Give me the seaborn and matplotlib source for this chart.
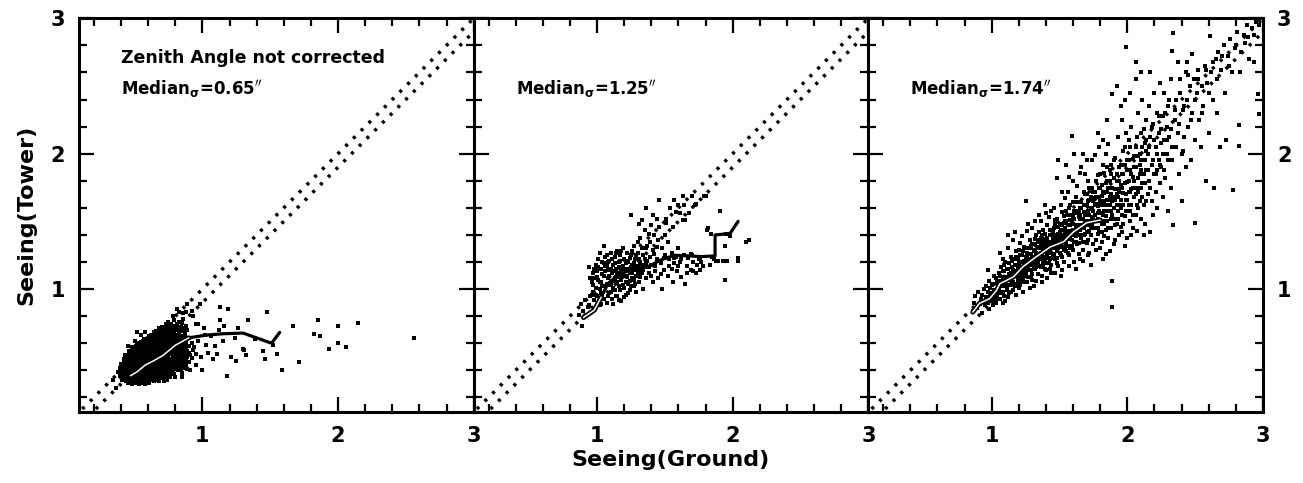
import matplotlib
matplotlib.use('Agg')
import matplotlib.pyplot as plt
from matplotlib.ticker import MultipleLocator, FixedLocator
import seaborn as sns

sns.set_style('ticks')
plt.rcParams['font.family'] = ['DejaVu Sans']
plt.rcParams['font.weight'] = 'bold'
plt.rcParams['axes.labelweight'] = 'bold'
plt.rcParams['mathtext.default'] = 'bf'
for k in ('text.color', 'axes.labelcolor', 'xtick.color', 'ytick.color', 'axes.edgecolor'):
    plt.rcParams[k] = 'black'

# ---------------- data ----------------
tick_values = [1, 2, 3]
tick_labels = ['1', '2', '3']
x_label = 'Seeing(Ground)'
y_label = 'Seeing(Tower)'
title_text = 'Zenith Angle not corrected'
median_values = ['0.65', '1.25', '1.74']

# two dotted reference lines: y = x and y = x - 0.1
diag_x = [0.0, 3.2]
diag_upper = [0.0, 3.2]
diag_lower_x = [0.1, 3.3]
diag_lower_y = [0.0, 3.2]

# panel 1 : ground vs tower seeing points
points1 = [
    (0.45,0.31),(0.48,0.30),(0.50,0.31),(0.53,0.30),(0.55,0.31),(0.58,0.30),(0.61,0.31),(0.64,0.32),
    (0.41,0.33),(0.43,0.34),(0.46,0.33),(0.49,0.33),(0.51,0.34),(0.54,0.33),(0.57,0.34),(0.60,0.33),(0.63,0.34),(0.66,0.33),(0.70,0.34),(0.74,0.33),
    (0.39,0.36),(0.41,0.37),(0.44,0.36),(0.46,0.37),(0.48,0.36),(0.51,0.37),(0.53,0.36),(0.56,0.37),(0.58,0.36),(0.61,0.37),(0.63,0.36),(0.66,0.37),(0.68,0.36),(0.71,0.37),(0.74,0.36),(0.77,0.37),(0.80,0.35),
    (0.38,0.39),(0.40,0.40),(0.43,0.39),(0.45,0.40),(0.47,0.39),(0.50,0.40),(0.52,0.39),(0.55,0.40),(0.57,0.39),(0.60,0.40),(0.62,0.39),(0.65,0.40),(0.67,0.39),(0.70,0.40),(0.72,0.39),(0.75,0.40),(0.78,0.39),(0.82,0.40),(0.85,0.38),
    (0.39,0.42),(0.41,0.43),(0.44,0.42),(0.46,0.43),(0.49,0.42),(0.51,0.43),(0.54,0.42),(0.56,0.43),(0.59,0.42),(0.61,0.43),(0.64,0.42),(0.66,0.43),(0.69,0.42),(0.71,0.43),(0.74,0.42),(0.76,0.43),(0.79,0.42),(0.82,0.43),(0.86,0.42),(0.89,0.41),
    (0.40,0.45),(0.42,0.46),(0.45,0.45),(0.47,0.46),(0.50,0.45),(0.52,0.46),(0.55,0.45),(0.57,0.46),(0.60,0.45),(0.62,0.46),(0.65,0.45),(0.67,0.46),(0.70,0.45),(0.72,0.46),(0.75,0.45),(0.77,0.46),(0.80,0.45),(0.83,0.46),(0.86,0.45),(0.90,0.46),
    (0.42,0.48),(0.44,0.49),(0.47,0.48),(0.49,0.49),(0.52,0.48),(0.54,0.49),(0.57,0.48),(0.59,0.49),(0.62,0.48),(0.64,0.49),(0.67,0.48),(0.69,0.49),(0.72,0.48),(0.74,0.49),(0.77,0.48),(0.79,0.49),(0.82,0.48),(0.85,0.49),(0.88,0.48),(0.92,0.49),
    (0.43,0.51),(0.46,0.52),(0.48,0.51),(0.51,0.52),(0.53,0.51),(0.56,0.52),(0.58,0.51),(0.61,0.52),(0.63,0.51),(0.66,0.52),(0.68,0.51),(0.71,0.52),(0.73,0.51),(0.76,0.52),(0.78,0.51),(0.81,0.52),(0.84,0.51),(0.87,0.52),(0.91,0.51),(0.95,0.52),
    (0.46,0.54),(0.49,0.55),(0.51,0.54),(0.54,0.55),(0.56,0.54),(0.59,0.55),(0.61,0.54),(0.64,0.55),(0.66,0.54),(0.69,0.55),(0.71,0.54),(0.74,0.55),(0.76,0.54),(0.79,0.55),(0.82,0.54),(0.85,0.55),(0.89,0.54),(0.93,0.55),
    (0.48,0.57),(0.51,0.58),(0.54,0.57),(0.57,0.58),(0.59,0.57),(0.62,0.58),(0.64,0.57),(0.67,0.58),(0.69,0.57),(0.72,0.58),(0.74,0.57),(0.77,0.58),(0.80,0.57),(0.83,0.58),(0.86,0.57),(0.90,0.58),(0.94,0.57),
    (0.52,0.60),(0.55,0.61),(0.58,0.60),(0.61,0.61),(0.63,0.60),(0.66,0.61),(0.68,0.60),(0.71,0.61),(0.73,0.60),(0.76,0.61),(0.79,0.60),(0.82,0.61),(0.85,0.60),(0.88,0.61),(0.92,0.60),
    (0.57,0.63),(0.60,0.64),(0.63,0.63),(0.66,0.64),(0.69,0.63),(0.71,0.64),(0.74,0.63),(0.77,0.64),(0.80,0.63),(0.83,0.64),(0.86,0.63),(0.90,0.64),
    (0.62,0.66),(0.65,0.67),(0.68,0.66),(0.71,0.67),(0.74,0.66),(0.77,0.67),(0.80,0.66),(0.83,0.67),(0.87,0.66),
    (0.66,0.69),(0.69,0.70),(0.72,0.69),(0.75,0.70),(0.78,0.69),(0.81,0.70),(0.85,0.69),(0.89,0.70),
    (0.70,0.72),(0.74,0.73),(0.77,0.72),(0.80,0.73),(0.84,0.72),(0.88,0.73),
    (0.75,0.76),(0.79,0.77),(0.83,0.76),(0.86,0.78),
    (0.58,0.68),(0.50,0.62),(0.45,0.58),(0.55,0.66),(0.86,0.82),(0.81,0.85),(0.92,0.84),(0.95,0.74),
    (0.44,0.32),(0.47,0.32),(0.52,0.32),(0.56,0.32),(0.59,0.32),(0.62,0.33),(0.68,0.32),(0.72,0.32),
    (0.40,0.35),(0.42,0.35),(0.45,0.35),(0.47,0.35),(0.50,0.35),(0.52,0.35),(0.55,0.35),(0.57,0.35),(0.60,0.35),(0.62,0.35),(0.65,0.35),(0.67,0.35),(0.70,0.35),(0.72,0.35),(0.76,0.35),
    (0.39,0.38),(0.42,0.38),(0.44,0.38),(0.46,0.38),(0.49,0.38),(0.51,0.38),(0.54,0.38),(0.56,0.38),(0.59,0.38),(0.61,0.38),(0.64,0.38),(0.66,0.38),(0.69,0.38),(0.71,0.38),(0.73,0.38),(0.76,0.38),(0.79,0.37),
    (0.40,0.41),(0.42,0.41),(0.45,0.41),(0.48,0.41),(0.50,0.41),(0.53,0.41),(0.55,0.41),(0.58,0.41),(0.60,0.41),(0.63,0.41),(0.65,0.41),(0.68,0.41),(0.70,0.41),(0.73,0.41),(0.75,0.41),(0.77,0.41),(0.80,0.41),(0.84,0.41),
    (0.41,0.44),(0.43,0.44),(0.46,0.44),(0.48,0.44),(0.51,0.44),(0.53,0.44),(0.56,0.44),(0.58,0.44),(0.61,0.44),(0.63,0.44),(0.66,0.44),(0.68,0.44),(0.71,0.44),(0.73,0.44),(0.76,0.44),(0.78,0.44),(0.81,0.44),(0.84,0.44),(0.88,0.44),
    (0.43,0.47),(0.46,0.47),(0.48,0.47),(0.51,0.47),(0.53,0.47),(0.56,0.47),(0.58,0.47),(0.61,0.47),(0.63,0.47),(0.66,0.47),(0.68,0.47),(0.71,0.47),(0.73,0.47),(0.76,0.47),(0.78,0.47),(0.81,0.47),(0.84,0.47),(0.87,0.47),
    (0.45,0.50),(0.47,0.50),(0.50,0.50),(0.53,0.50),(0.55,0.50),(0.58,0.50),(0.60,0.50),(0.63,0.50),(0.65,0.50),(0.68,0.50),(0.70,0.50),(0.73,0.50),(0.75,0.50),(0.78,0.50),(0.80,0.50),(0.83,0.50),(0.86,0.50),(0.89,0.50),
    (0.47,0.53),(0.50,0.53),(0.52,0.53),(0.55,0.53),(0.57,0.53),(0.60,0.53),(0.62,0.53),(0.65,0.53),(0.67,0.53),(0.70,0.53),(0.72,0.53),(0.75,0.53),(0.77,0.53),(0.80,0.53),(0.83,0.53),(0.86,0.53),(0.90,0.53),
    (0.50,0.56),(0.52,0.56),(0.55,0.56),(0.58,0.56),(0.60,0.56),(0.63,0.56),(0.65,0.56),(0.68,0.56),(0.70,0.56),(0.73,0.56),(0.75,0.56),(0.78,0.56),(0.81,0.56),(0.84,0.56),(0.88,0.56),
    (0.53,0.59),(0.56,0.59),(0.58,0.59),(0.60,0.59),(0.63,0.59),(0.65,0.59),(0.68,0.59),(0.70,0.59),(0.72,0.59),(0.75,0.59),(0.78,0.59),(0.81,0.59),(0.84,0.59),(0.87,0.59),
    (0.56,0.62),(0.59,0.62),(0.62,0.62),(0.65,0.62),(0.67,0.62),(0.70,0.62),(0.72,0.62),(0.75,0.62),(0.78,0.62),(0.81,0.62),(0.84,0.62),(0.87,0.62),
    (0.61,0.65),(0.64,0.65),(0.67,0.65),(0.70,0.65),(0.72,0.65),(0.75,0.65),(0.78,0.65),(0.82,0.65),(0.85,0.65),
    (0.64,0.68),(0.67,0.68),(0.70,0.68),(0.73,0.68),(0.76,0.68),(0.79,0.68),(0.83,0.68),(0.87,0.68),
    (0.68,0.71),(0.72,0.71),(0.76,0.71),(0.79,0.71),(0.82,0.71),(0.86,0.71),
    (0.73,0.74),(0.77,0.74),(0.81,0.74),(0.85,0.75),
    (0.89,0.89),(0.98,0.89),(1.13,0.87),(1.19,0.85),(1.48,0.83),(0.83,0.83),(0.88,0.83),(0.93,0.80),(0.78,0.80),
    (1.13,0.77),(1.34,0.77),(1.16,0.73),(1.67,0.73),(1.85,0.77),(2.00,0.73),(2.15,0.75),(1.82,0.67),(1.87,0.65),
    (2.56,0.64),(2.00,0.60),(1.93,0.56),(2.06,0.57),(1.71,0.46),(1.59,0.40),(1.55,0.52),(1.46,0.48),(1.45,0.54),
    (1.31,0.55),(1.25,0.47),(1.21,0.50),(1.18,0.36),(1.24,0.64),(1.26,0.71),(1.39,0.63),(1.30,0.56),(1.32,0.51),
    (1.52,0.59),(1.00,0.40),(1.08,0.48),(1.11,0.52),(1.04,0.53),(0.99,0.50),(0.97,0.62),(1.03,0.59),(1.09,0.58),
    (1.02,0.66),(1.06,0.65),(0.95,0.44),(0.91,0.40),(0.85,0.35),(0.88,0.46),(0.34,0.33),(0.36,0.27),(0.52,0.68),
    (1.15,0.62),(1.12,0.70),(1.01,0.71),(0.97,0.74),
]

points2 = [
    (0.88,0.89),(0.89,0.73),(0.87,0.81),(0.90,0.84),(0.92,0.80),(0.93,0.87),(0.91,0.92),(0.94,1.16),(0.95,0.95),
    (0.96,1.05),(0.97,0.98),(0.97,1.12),(0.98,0.92),(0.98,1.08),(0.99,1.18),(0.99,1.01),(1.00,0.95),(1.00,1.13),
    (1.01,1.07),(1.01,1.22),(1.02,0.88),(1.02,1.00),(1.03,1.15),(1.03,1.05),(1.04,0.94),(1.04,1.20),(1.05,1.10),
    (1.05,1.32),(1.06,1.02),(1.06,1.17),(1.07,0.90),(1.07,1.25),(1.08,1.08),(1.08,1.14),(1.09,0.97),(1.09,1.21),
    (1.10,1.04),(1.10,1.27),(1.11,1.12),(1.11,0.93),(1.12,1.18),(1.12,1.06),(1.13,1.24),(1.13,0.99),(1.14,1.15),
    (1.14,1.09),(1.15,0.95),(1.15,1.28),(1.16,1.20),(1.16,1.02),(1.17,1.12),(1.17,1.25),(1.18,0.91),(1.18,1.07),
    (1.19,1.17),(1.19,1.30),(1.20,1.01),(1.20,1.22),(1.21,1.10),(1.21,0.96),(1.22,1.27),(1.22,1.15),(1.23,1.04),
    (1.23,1.20),(1.24,0.99),(1.24,1.12),(1.25,1.55),(1.25,1.25),(1.26,1.08),(1.26,1.18),(1.27,1.02),(1.27,1.32),
    (1.28,1.14),(1.28,1.22),(1.29,0.98),(1.29,1.10),(1.30,1.27),(1.30,1.17),(1.31,1.05),(1.32,1.20),(1.32,1.38),
    (1.33,1.51),(1.33,1.12),(1.34,1.25),(1.34,1.00),(1.35,1.16),(1.35,1.44),(1.36,1.30),(1.36,1.08),
    (1.37,1.21),(1.38,1.41),(1.38,1.12),(1.39,1.35),(1.40,1.18),(1.40,1.47),(1.41,1.05),(1.42,1.26),(1.42,1.40),
    (1.43,1.13),(1.44,1.22),(1.44,1.52),(1.45,1.36),(1.45,1.08),(1.46,1.46),(1.47,1.19),(1.48,1.30),(1.48,1.00),
    (1.49,1.14),(1.50,1.40),(1.50,1.25),(1.51,1.52),(1.51,1.49),(1.52,1.10),(1.52,1.35),(1.53,1.22),(1.54,1.60),
    (1.55,1.15),(1.55,1.27),(1.56,1.05),(1.56,1.46),(1.57,1.19),(1.58,1.57),(1.58,1.24),(1.59,1.13),(1.60,1.30),
    (1.61,1.56),(1.61,1.20),(1.62,1.09),(1.63,1.51),(1.63,1.69),(1.64,1.62),(1.64,1.25),(1.65,1.51),(1.65,1.04),
    (1.66,1.17),(1.67,1.23),(1.68,1.56),(1.69,1.14),(1.70,1.69),(1.70,1.25),(1.71,1.20),(1.72,1.62),(1.73,1.63),
    (1.73,1.12),(1.74,1.18),(1.75,1.22),(1.76,1.14),(1.77,1.20),(1.78,1.17),(1.79,1.69),(1.80,1.69),(1.81,1.44),
    (1.82,1.45),(1.83,1.18),(1.84,1.41),(1.86,1.22),(1.88,1.21),(1.89,1.21),(1.91,1.58),(1.93,1.21),(1.94,1.32),
    (1.94,1.07),(1.95,1.41),(1.96,1.21),(1.98,1.39),(2.04,1.23),(2.04,1.21),(2.10,1.35),(2.12,1.36),(1.85,1.24),
    (1.76,1.23),(1.69,1.26),(1.60,1.62),(1.57,1.66),
    (0.97,1.03),(0.98,1.15),(0.99,0.96),(1.00,1.09),(1.01,1.16),(1.02,1.05),(1.02,1.27),(1.03,0.97),(1.04,1.11),
    (1.04,1.02),(1.05,1.19),(1.05,0.93),(1.06,1.13),(1.06,1.24),(1.07,1.04),(1.07,1.17),(1.08,0.95),(1.08,1.20),
    (1.09,1.10),(1.09,1.03),(1.10,1.15),(1.10,0.98),(1.11,1.22),(1.11,1.06),(1.12,1.13),(1.12,1.01),(1.13,1.08),
    (1.13,1.19),(1.14,1.27),(1.14,0.95),(1.15,1.12),(1.15,1.05),(1.16,1.16),(1.16,1.09),(1.17,0.99),(1.17,1.21),
    (1.18,1.14),(1.18,1.28),(1.19,1.03),(1.19,1.10),(1.20,1.15),(1.20,0.94),(1.21,1.19),(1.21,1.05),(1.22,1.09),
    (1.22,1.21),(1.23,1.14),(1.23,0.97),(1.24,1.23),(1.24,1.06),(1.25,1.16),(1.25,1.02),(1.26,1.12),(1.26,1.28),
    (1.27,1.19),(1.27,1.07),(1.28,1.17),(1.28,1.04),(1.29,1.25),(1.29,1.16),(1.30,1.12),(1.30,1.35),(1.31,1.22),
    (1.31,1.14),(1.32,1.09),(1.33,1.30),(1.33,1.18),(1.34,1.14),(1.35,1.22),(1.36,1.19),(1.37,1.32),(1.38,1.16),
    (1.39,1.24),(1.40,1.10),(1.41,1.29),(1.43,1.17),(1.44,1.31),(1.46,1.21),(1.47,1.11),(1.49,1.23),(1.53,1.17),
    (1.57,1.23),(1.62,1.22),(1.66,1.12),(1.71,1.13),(1.60,1.17),(1.12,0.89),(1.16,0.92),(1.03,0.89),(0.96,0.96),
    (0.95,1.08),(0.94,0.88),(1.36,1.60),(1.31,1.48),(1.41,1.55),(1.46,1.66),
]

points3 = [
    (0.86,0.84),(0.87,0.90),(0.88,0.95),(0.89,0.86),(0.90,0.98),(0.91,0.89),(0.92,0.93),(0.93,0.82),(0.94,1.00),(0.93,0.96),
    (0.95,0.88),(0.96,0.94),(0.96,1.02),(0.97,0.90),(0.97,0.98),(0.98,1.06),(0.98,0.85),(0.99,0.95),(0.99,1.01),(1.00,0.91),
    (1.00,0.97),(1.01,1.04),(1.01,0.88),(1.02,0.94),(1.02,1.10),(1.03,0.99),(1.03,0.90),(1.04,1.06),(1.04,0.96),(0.97,1.14),
    (1.05,1.00),(1.05,1.12),(1.06,0.93),(1.06,1.05),(1.07,0.98),(1.07,1.16),(1.08,1.02),(1.08,1.09),(1.09,0.95),(1.09,1.13),
    (1.10,1.04),(1.10,1.20),(1.11,0.99),(1.11,1.08),(1.12,1.15),(1.12,0.94),(1.13,1.03),(1.13,1.11),(1.14,1.24),(1.14,0.98),
    (1.06,1.27),(1.08,0.90),(1.12,1.30),(1.10,0.91),(1.14,1.07),
    (1.15,1.05),(1.15,1.16),(1.16,1.10),(1.16,0.99),(1.17,1.22),(1.17,1.13),(1.18,1.04),(1.18,1.28),(1.19,1.17),(1.19,1.08),
    (1.20,1.01),(1.20,1.20),(1.21,1.12),(1.21,1.34),(1.22,1.06),(1.22,1.25),(1.23,1.15),(1.23,0.98),(1.24,1.21),(1.24,1.10),
    (1.16,1.36),(1.18,0.96),(1.20,1.29),(1.22,1.39),(1.24,1.31),(1.19,1.23),(1.21,1.03),(1.23,1.08),(1.25,1.65),(1.17,1.42),
    (1.25,1.12),(1.25,1.24),(1.26,1.18),(1.26,1.05),(1.27,1.30),(1.27,1.21),(1.28,1.14),(1.28,1.36),(1.29,1.26),(1.29,1.09),
    (1.30,1.19),(1.30,1.33),(1.31,1.23),(1.31,1.02),(1.32,1.28),(1.32,1.15),(1.33,1.40),(1.33,1.21),(1.34,1.11),(1.34,1.31),
    (1.26,1.43),(1.28,1.01),(1.30,1.45),(1.32,1.37),(1.34,1.25),(1.27,1.16),(1.29,1.32),(1.31,1.17),(1.33,1.06),(1.35,1.35),
    (1.26,1.27),(1.28,1.22),(1.30,1.11),(1.32,1.50),(1.34,1.18),
    (1.35,1.22),(1.35,1.30),(1.36,1.16),(1.36,1.38),(1.37,1.26),(1.37,1.10),(1.38,1.33),(1.38,1.44),(1.39,1.20),(1.39,1.29),
    (1.40,1.36),(1.40,1.14),(1.41,1.25),(1.41,1.47),(1.42,1.31),(1.42,1.19),(1.43,1.40),(1.43,1.28),(1.44,1.23),(1.44,1.35),
    (1.36,1.50),(1.37,1.05),(1.38,1.24),(1.39,1.41),(1.40,1.28),(1.41,1.08),(1.42,1.53),(1.43,1.15),(1.44,1.44),(1.45,1.32),
    (1.35,1.42),(1.36,1.27),(1.38,1.18),(1.40,1.56),(1.41,1.34),(1.43,1.22),(1.44,1.12),(1.39,1.62),(1.45,1.26),(1.37,1.36),
    (1.45,1.38),(1.46,1.30),(1.46,1.45),(1.47,1.22),(1.47,1.36),(1.48,1.52),(1.48,1.28),(1.49,1.41),(1.49,1.17),(1.50,1.34),
    (1.50,1.48),(1.51,1.25),(1.51,1.39),(1.52,1.57),(1.52,1.31),(1.53,1.44),(1.53,1.20),(1.54,1.36),(1.54,1.50),(1.55,1.28),
    (1.46,1.60),(1.47,1.12),(1.48,1.40),(1.49,1.95),(1.50,1.27),(1.51,1.62),(1.52,1.14),(1.53,1.54),(1.54,1.42),(1.55,1.33),
    (1.46,1.35),(1.48,1.19),(1.50,1.42),(1.52,1.47),(1.53,1.29),(1.54,1.67),(1.47,1.48),(1.49,1.30),(1.51,1.10),(1.55,1.58),
    (1.55,1.40),(1.56,1.47),(1.56,1.32),(1.57,1.55),(1.57,1.25),(1.58,1.42),(1.58,1.62),(1.59,1.36),(1.59,1.50),(1.60,1.29),
    (1.60,1.44),(1.61,1.58),(1.61,1.20),(1.62,1.39),(1.62,1.68),(1.63,1.47),(1.63,1.33),(1.64,1.53),(1.64,1.26),(1.65,1.44),
    (1.56,1.72),(1.57,1.17),(1.58,1.51),(1.59,2.13),(1.60,1.64),(1.61,1.35),(1.62,1.15),(1.63,1.76),(1.64,1.40),(1.65,1.60),
    (1.56,1.39),(1.58,1.30),(1.60,1.53),(1.62,1.45),(1.64,1.34),(1.61,2.00),(1.57,1.83),(1.63,1.58),(1.65,1.22),(1.59,1.43),
    (1.65,1.52),(1.66,1.38),(1.66,1.64),(1.67,1.45),(1.67,1.29),(1.68,1.57),(1.68,1.72),(1.69,1.41),(1.69,1.50),(1.70,1.34),
    (1.70,1.62),(1.71,1.80),(1.71,1.47),(1.72,1.27),(1.72,1.55),(1.73,1.68),(1.73,1.40),(1.74,1.59),(1.74,1.48),(1.75,1.33),
    (1.66,1.90),(1.67,1.21),(1.68,1.45),(1.69,1.85),(1.70,1.55),(1.71,1.36),(1.72,1.66),(1.73,1.18),(1.74,1.75),(1.75,1.52),
    (1.66,1.52),(1.68,1.35),(1.70,1.70),(1.72,1.43),(1.74,1.95),(1.67,2.00),(1.69,1.62),(1.71,1.25),(1.73,1.50),(1.75,1.65),
    (1.75,1.58),(1.76,1.45),(1.76,1.72),(1.77,1.36),(1.77,1.63),(1.78,1.52),(1.78,1.84),(1.79,1.42),(1.79,1.68),(1.80,1.30),
    (1.80,1.56),(1.81,1.77),(1.81,1.48),(1.82,1.92),(1.82,1.62),(1.83,1.39),(1.83,1.71),(1.84,1.54),(1.84,1.26),(1.85,1.66),
    (1.76,1.99),(1.77,1.29),(1.78,1.61),(1.79,2.05),(1.80,1.75),(1.81,1.35),(1.82,1.50),(1.83,1.86),(1.84,1.44),(1.85,1.80),
    (1.76,1.55),(1.78,1.41),(1.80,1.65),(1.82,1.22),(1.84,2.00),(1.79,1.58),(1.81,1.69),(1.83,1.58),
    (1.85,1.50),(1.86,1.75),(1.86,1.38),(1.87,1.62),(1.87,1.88),(1.88,1.45),(1.88,1.70),(1.89,1.55),(1.89,1.06),(1.89,0.87),
    (1.90,1.82),(1.90,1.33),(1.91,1.66),(1.91,1.97),(1.92,1.48),(1.92,2.50),(1.93,1.74),(1.93,1.58),(1.94,1.40),(1.94,1.90),
    (1.86,2.07),(1.87,1.28),(1.88,1.58),(1.89,2.44),(1.90,1.68),(1.91,1.36),(1.92,1.80),(1.93,2.12),(1.94,1.62),(1.95,1.46),
    (1.86,1.66),(1.88,1.92),(1.90,1.52),(1.92,1.70),(1.95,1.77),
    (1.95,1.60),(1.96,1.85),(1.96,1.42),(1.97,1.71),(1.97,2.02),(1.98,1.54),(1.98,1.92),(1.99,1.66),(1.99,2.79),(2.00,1.79),
    (2.00,1.38),(2.01,2.10),(2.01,1.62),(2.02,1.88),(2.02,1.50),(2.03,1.74),(2.03,2.20),(2.04,1.45),(2.04,1.96),(2.05,1.68),
    (1.96,2.25),(1.98,1.32),(2.00,1.95),(2.02,1.58),(2.04,1.83),(2.06,2.68),(1.97,1.48),(1.99,2.15),(2.01,1.72),(2.03,1.40),
    (2.05,1.90),(2.06,1.55),(2.06,2.05),(2.07,1.75),(2.07,1.43),(2.08,1.98),(2.08,2.30),(2.09,1.65),(2.09,1.85),(2.10,2.15),
    (2.10,1.52),(2.11,1.78),(2.11,2.40),(2.12,1.95),(2.12,1.62),(2.13,2.08),(2.13,1.48),(2.14,1.88),(2.14,2.25),(2.15,1.70),
    (2.06,2.55),(2.08,1.60),(2.10,1.95),(2.12,1.40),(2.14,2.02),
    (2.15,2.00),(2.16,1.80),(2.16,2.35),(2.17,1.42),(2.17,2.12),(2.18,1.65),(2.18,1.92),(2.19,2.22),(2.19,1.55),(2.20,2.45),
    (2.20,1.85),(2.21,2.05),(2.21,1.72),(2.22,2.30),(2.22,1.60),(2.23,2.15),(2.23,1.95),(2.24,2.52),(2.24,1.78),(2.25,2.08),
    (2.17,2.60),(2.22,1.88),
    (2.25,1.90),(2.26,2.28),(2.26,1.68),(2.27,2.10),(2.27,2.45),(2.28,1.82),(2.29,2.20),(2.29,2.00),(2.30,1.58),(2.30,2.35),
    (2.31,2.12),(2.32,1.75),(2.32,2.55),(2.33,2.76),(2.33,1.95),(2.34,2.89),(2.34,1.47),(2.35,2.25),
    (2.36,2.05),(2.36,2.40),(2.37,2.68),(2.38,1.85),(2.38,2.22),(2.39,2.55),(2.40,2.00),(2.40,1.65),(2.41,2.32),(2.42,2.12),
    (2.43,2.60),(2.43,1.90),(2.44,2.68),(2.44,2.40),(2.45,2.20),
    (2.46,2.50),(2.47,1.95),(2.48,2.74),(2.48,2.30),(2.49,2.55),(2.50,1.49),(2.50,2.10),(2.51,2.45),(2.52,2.62),(2.53,2.25),
    (2.54,2.05),(2.55,2.50),
    (2.56,2.35),(2.57,2.65),(2.58,1.80),(2.59,2.52),(2.60,2.15),(2.61,2.87),(2.62,2.60),(2.63,2.40),(2.64,1.75),(2.65,2.70),
    (2.66,2.30),(2.67,2.75),(2.68,2.05),(2.69,2.62),(2.71,2.80),(2.72,2.45),(2.73,2.10),(2.74,2.72),
    (2.76,2.85),(2.77,2.60),(2.78,1.73),(2.79,2.78),(2.81,2.90),(2.82,2.21),(2.82,2.06),(2.83,2.60),
    (2.86,2.88),(2.88,2.95),(2.90,2.70),(2.93,2.68),(2.96,2.44),(2.97,2.29),(2.92,2.93),(2.95,2.97),(2.87,2.82),
    (0.99,0.92),(1.01,0.97),(1.00,1.03),(1.02,0.99),(1.03,1.08),(1.04,0.93),
    (1.05,1.03),(1.06,0.97),(1.06,1.10),(1.07,1.06),(1.08,1.13),(1.08,0.98),(1.09,1.04),(1.09,1.18),
    (1.10,1.09),(1.11,1.02),(1.11,1.15),(1.12,1.07),(1.13,1.19),(1.13,0.97),(1.14,1.12),(1.14,1.03),
    (1.15,1.10),(1.15,1.21),(1.16,1.05),(1.16,1.14),(1.17,1.18),(1.17,1.02),(1.18,1.11),(1.18,1.24),(1.19,1.06),(1.19,1.14),
    (1.20,1.17),(1.20,1.09),(1.21,1.25),(1.21,1.15),(1.22,1.10),(1.22,1.20),(1.23,1.28),(1.23,1.12),(1.24,1.17),(1.24,1.05),
    (1.25,1.20),(1.25,1.30),(1.26,1.14),(1.26,1.23),(1.27,1.09),(1.27,1.26),(1.28,1.18),(1.28,1.30),(1.29,1.21),(1.29,1.14),
    (1.30,1.24),(1.30,1.07),(1.31,1.29),(1.31,1.19),(1.32,1.33),(1.32,1.24),(1.33,1.16),(1.33,1.27),(1.34,1.21),(1.34,1.36),
    (1.35,1.26),(1.35,1.17),(1.36,1.32),(1.36,1.22),(1.37,1.40),(1.37,1.30),(1.38,1.21),(1.38,1.28),(1.39,1.35),(1.39,1.15),
    (1.40,1.31),(1.40,1.23),(1.41,1.38),(1.41,1.19),(1.42,1.28),(1.42,1.35),(1.43,1.44),(1.43,1.32),(1.44,1.27),(1.44,1.18),
    (1.45,1.35),(1.45,1.42),(1.46,1.25),(1.46,1.40),(1.47,1.32),(1.47,1.51),(1.48,1.35),(1.48,1.23),(1.49,1.46),(1.49,1.36),
    (1.50,1.31),(1.50,1.38),(1.51,1.44),(1.51,1.33),(1.52,1.40),(1.52,1.24),(1.53,1.49),(1.53,1.37),(1.54,1.30),(1.54,1.45),
    (1.55,1.36),(1.55,1.50),(1.56,1.43),(1.56,1.27),(1.57,1.41),(1.57,1.60),(1.58,1.37),(1.58,1.47),(1.59,1.32),(1.59,1.55),
    (1.60,1.40),(1.60,1.48),(1.61,1.43),(1.61,1.52),(1.62,1.35),(1.62,1.56),(1.63,1.42),(1.63,1.64),(1.64,1.47),(1.64,1.58),
    (1.65,1.40),(1.65,1.55),(1.66,1.47),(1.66,1.60),(1.67,1.35),(1.67,1.52),(1.68,1.62),(1.68,1.40),(1.69,1.55),(1.69,1.70),
    (1.70,1.48),(1.70,1.42),(1.71,1.58),(1.71,1.65),(1.72,1.50),(1.72,1.75),(1.73,1.45),(1.73,1.60),(1.74,1.53),(1.74,1.67),
    (1.75,1.45),(1.75,1.72),(1.76,1.62),(1.76,1.50),(1.77,1.68),(1.77,1.80),(1.78,1.56),(1.78,1.45),(1.79,1.75),(1.79,1.50),
    (1.80,1.62),(1.80,1.85),(1.81,1.56),(1.81,1.42),(1.82,1.72),(1.82,1.55),(1.83,1.65),(1.83,1.48),(1.84,1.78),(1.84,1.62),
    (1.85,1.72),(1.85,1.90),(1.86,1.58),(1.86,1.45),(1.87,1.80),(1.87,1.68),(1.88,1.52),(1.88,1.85),(1.89,1.65),(1.89,1.75),
    (1.90,1.60),(1.90,1.95),(1.91,1.74),(1.91,1.47),(1.92,1.85),(1.92,1.62),(1.93,1.68),(1.93,1.52),(1.94,1.80),(1.94,1.72),
    (1.95,1.92),(1.95,1.66),(1.96,1.75),(1.96,1.55),(1.97,1.85),(1.97,1.62),(1.98,1.78),(1.98,2.05),(1.99,1.70),(1.99,1.58),
    (2.00,1.88),(2.00,1.66),(2.01,1.80),(2.01,1.95),(2.02,1.72),(2.02,2.05),(2.03,1.62),(2.03,1.85),(2.04,1.75),(2.04,1.55),
    (2.05,1.98),(2.05,1.80),(2.06,1.70),(2.06,1.90),(2.07,2.12),(2.07,1.62),(2.08,1.82),(2.08,1.72),(2.09,2.00),(2.09,1.92),
    (2.10,1.75),(2.10,1.88),(2.11,2.05),(2.11,1.68),(2.12,1.85),(2.12,2.18),(2.13,1.78),(2.13,1.95),(2.14,1.65),(2.14,2.10),
    (2.15,1.88),(2.16,2.05),(2.17,1.75),(2.18,2.20),(2.19,1.95),(2.20,2.10),(2.21,1.85),(2.22,2.00),(2.23,2.28),(2.24,1.92),
    (2.25,2.18),(2.26,2.00),(2.27,1.88),(2.28,2.30),(2.29,2.10),(2.30,1.95),(2.31,2.40),(2.32,2.18),(2.33,2.05),(2.35,2.32),
    (2.37,2.15),(2.39,2.45),(2.41,2.02),(2.42,2.35),(2.45,2.58),(2.47,2.25),(2.50,2.40),(2.52,2.55),(2.55,2.30),(2.58,2.62),
    (2.60,2.45),(2.63,2.68),(2.66,2.55),(2.70,2.72),(2.75,2.65),(2.80,2.80),(2.84,2.75),(2.89,2.86),(2.93,2.88),(2.97,2.95),
    (1.12,1.40),(1.08,1.22),(1.27,1.48),(1.35,1.55),(1.44,1.58),(1.52,1.72),(1.48,1.82),(1.60,1.80),(1.55,1.92),(1.65,1.86),
    (1.70,1.95),(1.78,2.15),(1.85,2.25),(1.82,2.10),(1.95,2.35),(2.02,2.45),(1.98,2.40),(2.10,2.60),
]

# running medians
median1_x = [0.47, 0.52, 0.58, 0.64, 0.71, 0.80, 0.90, 1.03, 1.15, 1.30, 1.51, 1.57]
median1_y = [0.36, 0.39, 0.44, 0.47, 0.51, 0.585, 0.64, 0.66, 0.67, 0.675, 0.60, 0.68]
median2_x = [0.90, 0.98, 1.03, 1.08, 1.15, 1.23, 1.30, 1.375, 1.47, 1.57, 1.67, 1.77, 1.87, 1.87, 1.98, 2.04]
median2_y = [0.79, 0.845, 0.94, 1.04, 1.10, 1.135, 1.15, 1.165, 1.215, 1.25, 1.245, 1.24, 1.245, 1.40, 1.41, 1.50]
median3_x = [0.86, 0.91, 0.985, 1.035, 1.06, 1.16, 1.23, 1.33, 1.43, 1.53, 1.60, 1.70, 1.80]
median3_y = [0.83, 0.895, 0.93, 0.99, 1.04, 1.09, 1.165, 1.24, 1.31, 1.35, 1.42, 1.49, 1.51]

panels = [
    (points1, median1_x, median1_y, 7),
    (points2, median2_x, median2_y, 3),
    (points3, median3_x, median3_y, 13),
]

# ---------------- figure ----------------
fig = plt.figure(figsize=(13.03, 4.83), dpi=100)
left0, bottom0, w, h = 0.0606, 0.1464, 0.3029, 0.8157
axes = []
for i in range(3):
    ax = fig.add_axes([left0 + i * w, bottom0, w, h], sharey=axes[0] if axes else None)
    axes.append(ax)

dot_style = dict(color='black', lw=2.5, linestyle=(0, (0.9, 2.25)),
                 dash_capstyle='butt', solid_capstyle='butt', zorder=1)

for i, (ax, (pts, mx, my, nwhite)) in enumerate(zip(axes, panels)):
    ax.plot(diag_x, diag_upper, **dot_style)
    ax.plot(diag_lower_x, diag_lower_y, **dot_style)
    px = [p[0] for p in pts]
    py = [p[1] for p in pts]
    sns.scatterplot(x=px, y=py, ax=ax, color='black', marker='s', s=5, linewidth=0, zorder=2)
    sns.lineplot(x=mx, y=my, ax=ax, color='black', lw=2.3, sort=False, estimator=None, zorder=3)
    sns.lineplot(x=mx[:nwhite], y=my[:nwhite], ax=ax, color='black', lw=3.6,
                 sort=False, estimator=None, zorder=3)
    sns.lineplot(x=mx[:nwhite], y=my[:nwhite], ax=ax, color='white', lw=1.1,
                 sort=False, estimator=None, zorder=4)

    ax.set_xlim(0.09, 3.0)
    ax.set_ylim(0.09, 3.0)
    ax.xaxis.set_major_locator(FixedLocator(tick_values))
    ax.yaxis.set_major_locator(FixedLocator(tick_values))
    ax.set_xticklabels(tick_labels)
    ax.xaxis.set_minor_locator(MultipleLocator(0.2))
    ax.yaxis.set_minor_locator(MultipleLocator(0.2))
    ax.tick_params(which='both', direction='in', top=True, right=True,
                   bottom=True, left=True, width=1.6, color='black')
    ax.tick_params(which='major', length=11, labelsize=15, pad=10)
    ax.tick_params(which='minor', length=6)
    for s in ax.spines.values():
        s.set_linewidth(2.2)
        s.set_color('black')
        s.set_zorder(5)
    ax.tick_params(labelleft=(i == 0), labelright=(i == 2))
    if i == 0:
        ax.set_yticklabels(tick_labels)
    for lab in ax.get_xticklabels() + ax.get_yticklabels():
        lab.set_fontweight('bold')
        lab.set_color('black')

    ax.text(0.40, 2.436, r'Median$_{\sigma}$=' + median_values[i] + r'$^{\prime\prime}$',
            fontsize=12, fontweight='bold', va='baseline', ha='left', color='black')

axes[0].text(0.40, 2.67, title_text, fontsize=12.5, fontweight='bold',
             va='baseline', ha='left', color='black')
axes[0].set_ylabel(y_label, fontsize=16, fontweight='bold', labelpad=10, color='black')
axes[1].set_xlabel(x_label, fontsize=16, fontweight='bold', labelpad=3, color='black')

fig.savefig('out.png', dpi=100, facecolor='white')
